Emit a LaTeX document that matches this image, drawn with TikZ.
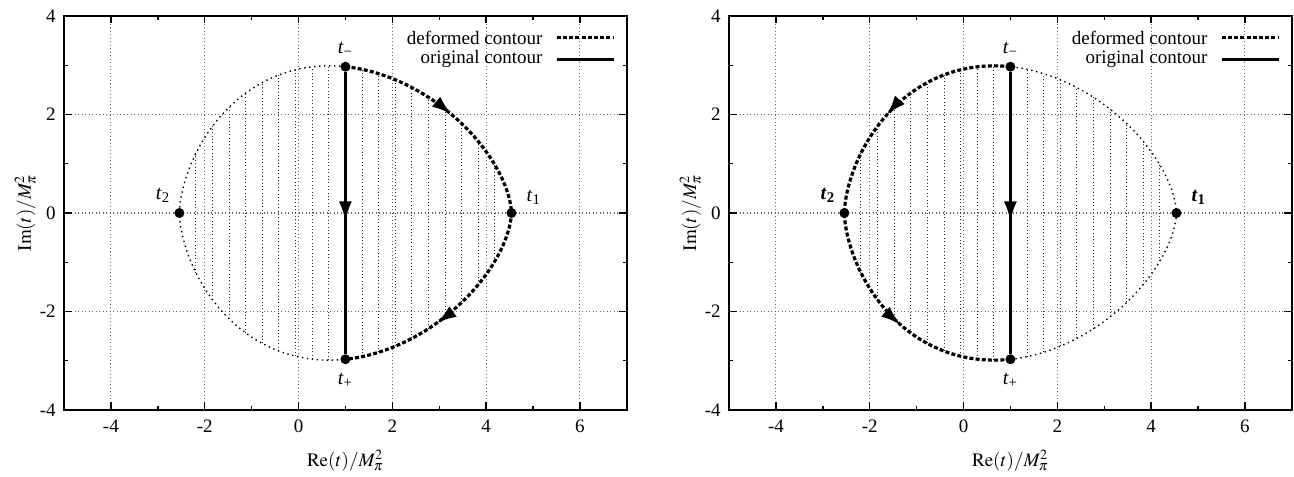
\documentclass[tikz,border=0pt]{standalone}
\usepackage{mathptmx}
\usepackage{fontspec}
\setmainfont{Liberation Serif}
\usetikzlibrary{arrows.meta,positioning,decorations.markings}

\begin{document}
\begin{tikzpicture}[
    font=\fontsize{9.5}{11}\selectfont,
    declare function={cx(\t)=1+3.54*cos(\t);
      cy(\t)=2.97*(1-0.12*cos(\t))*sin(\t)*pow(max(abs(sin(\t)),0.0001),0.2);},
    flowtip/.tip={Latex[length=10pt,width=6.5pt]},
    axisframe/.style={line width=0.7pt},
    gridline/.style={black!60, line width=0.55pt, dash pattern=on 0.55pt off 1.2pt},
    hatch/.style={black!85, line width=0.5pt, dash pattern=on 0.5pt off 1.2pt},
    boundary/.style={line width=0.7pt, dash pattern=on 0.7pt off 1.8pt},
    deformed/.style={line width=1.6pt, dash pattern=on 2pt off 1.1pt},
    original/.style={line width=1.5pt},
    arrowat/.style={postaction={decorate}, decoration={markings,
      mark=at position #1 with {\arrow{flowtip}}}},
    arrowsat/.style 2 args={postaction={decorate}, decoration={markings,
      mark=at position #1 with {\arrow{flowtip}},
      mark=at position #2 with {\arrow{flowtip}}}},
    pointdot/.style={circle, fill, inner sep=0pt, minimum size=5pt},
    ticklabel/.style={inner sep=0pt},
    tlabel/.style={inner sep=0pt, font=\fontsize{10}{12}\selectfont}
  ]
  \useasboundingbox (0,0) rectangle (647pt,238pt);

  % common parts of both panels
  \foreach \px/\side in {149.25pt/L, 481.75pt/R} {
    \begin{scope}[shift={(\px,131.5pt)}, x=23.45pt, y=24.625pt]
      % grid
      \foreach \x in {-4,-2,...,6} \draw[gridline] (\x,-4) -- (\x,4);
      \foreach \y in {-2,0,2} \draw[gridline] (-5,\y) -- (7,\y);
      % hatching inside the curve
      \foreach \j in {-9,...,9} {
        \pgfmathsetmacro\hy{2.97*(1-0.012*\j)*pow(1-(\j/10)^2,0.6)}
        \draw[hatch] (1+0.354*\j,-\hy) -- (1+0.354*\j,\hy);
      }
      % frame and ticks
      \draw[axisframe] (-5,-4) rectangle (7,4);
      \foreach \x in {-4,-2,...,6} {
        \draw[axisframe] (\x,-4) -- ++(0,3.75pt) (\x,4) -- ++(0,-3.75pt);
        \node[ticklabel, anchor=base] (xt\side\x) at ([yshift=-11.5pt]\x,-4) {\x};
      }
      \foreach \x in {-3,-1,...,5}
        \draw[axisframe] (\x,-4) -- ++(0,2pt) (\x,4) -- ++(0,-2pt);
      \foreach \y in {-4,-2,...,4} {
        \draw[axisframe] (-5,\y) -- ++(3.75pt,0) (7,\y) -- ++(-3.75pt,0);
        \node[ticklabel, anchor=east] (yt\side\y) at ([xshift=-4pt]-5,\y) {\y};
      }
      \foreach \y in {-3,-1,1,3}
        \draw[axisframe] (-5,\y) -- ++(2pt,0) (7,\y) -- ++(-2pt,0);
      % axis labels
      \node[anchor=base] (xlab\side) at ([yshift=-28pt]1,-4) {$\mathrm{Re}(t)/M_\pi^2$};
      \node[anchor=base, rotate=90] (ylab\side) at ([xshift=-16.5pt]-5,0) {$\mathrm{Im}(t)/M_\pi^2$};
      % legend
      \node[anchor=east, inner sep=0pt] (legd\side) at ([xshift=-42pt, yshift=-10.85pt]7,4) {deformed contour};
      \node[anchor=east, inner sep=0pt] (lego\side) at ([xshift=-42pt, yshift=-21.65pt]7,4) {original contour};
      \draw[deformed] ([xshift=7pt]legd\side.east) -- ++(28.5pt,0);
      \draw[original] ([xshift=7pt]lego\side.east) -- ++(28.5pt,0);
    \end{scope}
  }

  % left panel: contour deformed through t1
  \begin{scope}[shift={(149.25pt,131.5pt)}, x=23.45pt, y=24.625pt]
    \draw[boundary] plot[domain=90:270, samples=91, variable=\t] ({cx(\t)},{cy(\t)});
    \draw[deformed, arrowsat={0.25}{0.79}] plot[domain=90:-90, samples=91, variable=\t] ({cx(\t)},{cy(\t)});
  \end{scope}

  % right panel: contour deformed through t2
  \begin{scope}[shift={(481.75pt,131.5pt)}, x=23.45pt, y=24.625pt]
    \draw[boundary] plot[domain=-90:90, samples=91, variable=\t] ({cx(\t)},{cy(\t)});
    \draw[deformed, arrowsat={0.28}{0.76}] plot[domain=90:270, samples=91, variable=\t] ({cx(\t)},{cy(\t)});
  \end{scope}

  % end points and labels
  \foreach \px/\side/\wt in {149.25pt/L/\mdseries, 481.75pt/R/\bfseries} {
    \begin{scope}[shift={(\px,131.5pt)}, x=23.45pt, y=24.625pt]
      \node[pointdot] (tm\side) at (1,2.97) {};
      \node[pointdot] (tp\side) at (1,-2.97) {};
      \node[pointdot] (ta\side) at (4.54,0) {};
      \node[pointdot] (tb\side) at (-2.54,0) {};
      \node[tlabel, above=2pt of tm\side] (lm\side) {\textit{t}\textsubscript{−}};
      \node[tlabel, below=4pt of tp\side] (lp\side) {\textit{t}\textsubscript{+}};
      \node[tlabel, above right=2pt and 5.5pt of ta\side] (la\side) {\wt\textit{t}\textsubscript{1}};
      \node[tlabel, above left=3pt and 2.5pt of tb\side] (lb\side) {\wt\textit{t}\textsubscript{2}};
    \end{scope}
  }

  % original contours
  \draw[original, arrowat=0.53] (tmL) -- (tpL);
  \draw[original, arrowat=0.53] (tmR) -- (tpR);
\end{tikzpicture}
\end{document}
